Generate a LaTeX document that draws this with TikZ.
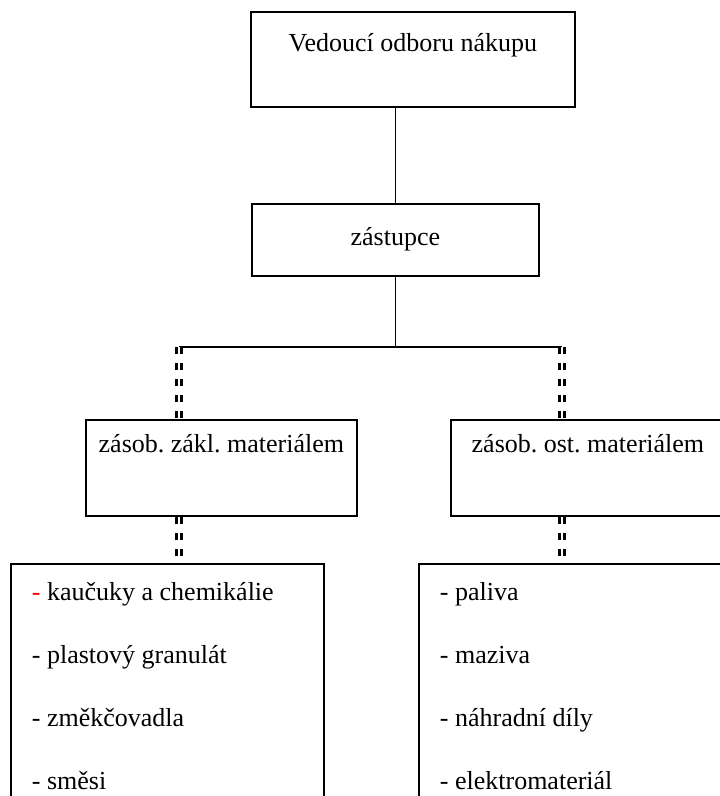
\documentclass[tikz,border=0pt]{standalone}
\usepackage{fontspec}
\setmainfont{Liberation Serif}
\usetikzlibrary{positioning}
\frenchspacing
\begin{document}
\begin{tikzpicture}[
  x=1pt, y=-1pt,
  font=\fontsize{26pt}{31pt}\selectfont,
  box/.style     = {draw, line width=1.8pt, inner sep=0pt, align=center,
                    anchor=north west},
  listbox/.style = {draw, line width=1.8pt, inner xsep=21pt, inner ysep=19pt,
                    text width=271pt, align=flush left, anchor=north west,
                    font=\fontsize{26pt}{63pt}\selectfont},
  link/.style    = {line width=1.8pt},
  dbl/.style     = {line width=2.5pt, double, double distance=2.5pt,
                    dash pattern=on 7pt off 9pt},
]
\useasboundingbox (0,0) rectangle (720,796);
\clip (0,0) rectangle (720,796);

%%────────── boxes ───────────────────────────────────────────
\node[box, minimum width=324pt, text height=40pt, text depth=55pt]
  (head) at (250, 11) {Vedoucí odboru nákupu};
\node[box, minimum width=287pt, text height=42pt, text depth=30pt]
  (dep)  at (251,203) {zástupce};
\node[box, minimum width=271pt, text height=33pt, text depth=63pt]
  (zakl) at ( 85,419) {zásob. zákl. materiálem};
\node[box, minimum width=274pt, text height=33pt, text depth=63pt]
  (ost)  at (450,419) {zásob. ost. materiálem};

\node[listbox] (matL) at ( 10,563)
  {\textcolor{red}{-} kaučuky a chemikálie\\- plastový granulát\\- změkčovadla\\- směsi};
\node[listbox] (matR) at (418,563)
  {- paliva\\- maziva\\- náhradní díly\\- elektromateriál};

%%────────── connectors ──────────────────────────────────────
\coordinate (barL) at (179,347);
\coordinate (barR) at (562,347);

\draw[link] (dep.north) -- (dep.north |- head.south);
\draw[link] (dep.south) -- (dep.south |- barL);
\draw[link] (barL) -- (barR);
\draw[dbl]  (barL) -- (barL |- zakl.north);
\draw[dbl]  (barR) -- (barR |- ost.north);
\draw[dbl]  (barL |- zakl.south) -- (barL |- matL.north);
\draw[dbl]  (barR |- ost.south)  -- (barR |- matR.north);

\end{tikzpicture}
\end{document}
